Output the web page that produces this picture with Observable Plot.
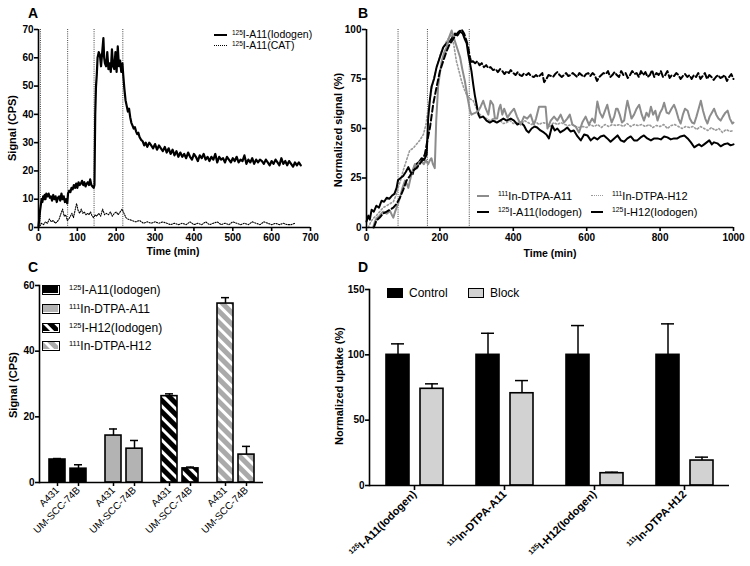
<!DOCTYPE html>
<html><head><meta charset="utf-8">
<script src="https://cdn.jsdelivr.net/npm/d3@7"></script>
<script src="https://cdn.jsdelivr.net/npm/@observablehq/plot@0.6"></script>
<style>
body{margin:0;background:#fff;}
#root{position:relative;width:750px;height:566px;overflow:hidden;font-family:"Liberation Sans",Arial,sans-serif;color:#000;background:#fff;}
.panel{position:absolute;}
.letter{position:absolute;font-weight:bold;font-size:14px;line-height:14px;}
.atitle{position:absolute;font-weight:bold;font-size:11px;white-space:nowrap;transform:translate(-50%,-50%);}
.atitle.rot{transform:translate(-50%,-50%) rotate(-90deg);}
.leg{position:absolute;white-space:nowrap;line-height:1;transform:translateY(-50%);}
.leg sup{font-size:0.62em;vertical-align:0.5em;line-height:0;}
.sample{position:absolute;height:0;}
.swatch{position:absolute;box-sizing:border-box;}
</style>
</head><body>
<svg width="0" height="0" style="position:absolute">
 <defs>
  <pattern id="stripeK" patternUnits="userSpaceOnUse" width="8" height="8" patternTransform="rotate(-45)">
   <rect width="8" height="8" fill="#000"/><rect width="3" height="8" fill="#fff"/>
  </pattern>
  <pattern id="stripeG" patternUnits="userSpaceOnUse" width="8" height="8" patternTransform="rotate(-45)">
   <rect width="8" height="8" fill="#aaaaaa"/><rect width="3" height="8" fill="#fff"/>
  </pattern>
 </defs>
</svg>
<div id="root"></div>
<script>
// ---------------- DATA ----------------
// Panel A: [time (min), signal (CPS)]
const aIodogen = [[0,0.5],[2,3],[4,6],[6,8],[8,10],[10,9],[12,11],[14,10],[16,11.5],[18,10],[20,12],[23,11],[26,12],[29,10.5],[32,11],[35,9.5],[38,11.5],[41,10],[44,11],[47,9],[50,10.5],[53,11],[56,9.5],[59,12],[62,10],[65,11],[68,9],[71,10],[74,8.5],[76,12],[79,13],[82,12.5],[85,14],[88,13.5],[91,15],[94,14],[97,15.5],[100,14],[103,16],[106,15],[109,15.5],[112,16.5],[115,15],[118,16],[121,14.5],[124,15.5],[127,16],[130,15],[133,17],[136,15],[139,14.5],[142,14],[144,15],[146,40],[148,50],[150,54],[152,60],[155,62],[158,61],[161,57],[164,62],[167,67],[169,60],[171,58],[174,57],[177,62],[180,56],[183,58],[186,55],[189,63],[192,57],[195,56],[198,62],[201,55],[204,64],[207,57],[210,59],[213,55],[216,58],[218,54],[221,49],[224,45],[227,43],[230,41],[233,42],[236,39],[239,37],[242,36],[245,35],[248,35.5],[251,34],[254,33],[257,33.5],[260,32],[264,31],[268,30.5],[272,29],[276,30],[280,28.5],[285,30],[290,29],[295,28],[300,29.5],[305,27.5],[310,29],[315,28],[320,27],[325,28.5],[330,26.5],[335,28],[340,26],[345,27.5],[350,25.5],[355,27],[360,25],[365,26.5],[370,25],[375,26],[380,24.5],[385,26.5],[390,25],[395,24],[400,26],[405,25],[410,23.5],[415,25.5],[420,24.5],[425,26],[430,24],[435,25],[440,23.5],[445,25],[450,24],[455,26],[460,23],[465,25],[470,24],[475,24.5],[480,23],[485,25],[490,24],[495,23],[500,24.5],[505,23.5],[510,25],[515,23],[520,24],[525,23.5],[530,25.5],[535,22.5],[540,24],[545,23],[550,24.5],[555,22.5],[560,24],[565,23],[570,24],[575,23.5],[580,22.5],[585,24],[590,23],[595,22],[600,23.5],[605,22.5],[610,24],[615,23],[620,22],[625,24.5],[630,22.5],[635,23.5],[640,22],[645,23.5],[650,22.5],[655,21.5],[660,23],[665,22],[670,23],[675,22]];
const aCat = [[3,0.5],[8,1.5],[13,1],[18,2],[23,1.5],[28,3],[33,2],[38,2.5],[43,1.5],[48,2],[53,3],[58,5],[62,6.5],[66,4],[70,4.5],[74,2.5],[78,3],[82,4],[86,5],[90,3.5],[94,6],[98,8.5],[102,6],[106,5],[110,6.5],[114,5],[118,5.5],[122,4.5],[126,5],[130,4.5],[134,5.5],[138,4],[142,3.5],[146,4.5],[150,4],[155,5],[160,4],[165,6.5],[170,4.5],[175,5],[180,4.5],[185,5.5],[190,4],[195,5],[200,5.5],[205,4.5],[210,5.5],[215,6.5],[220,5],[225,3.5],[230,3],[240,2.5],[250,2],[260,2.5],[270,1.5],[280,2],[290,1.5],[300,2],[310,1.5],[320,2],[330,1.5],[340,1],[350,1.5],[360,1],[370,1.5],[380,1],[390,2],[400,1],[410,1.5],[420,1],[430,2],[440,1],[450,1.5],[460,2],[470,1],[480,1.5],[490,1],[500,2],[510,1.5],[520,1],[530,1.5],[540,1],[550,2],[560,1.5],[570,1],[580,2],[590,1.5],[600,1],[610,1.5],[620,1],[630,1.5],[640,1],[650,1],[660,1.5]];
const aSwitches = [5, 75, 143, 217];
const aXTicks = [0,100,200,300,400,500,600,700];
const aYTicks = [0,10,20,30,40,50,60,70];

// Panel B: [time (min), normalized signal (%)]
const bInA11 = [[18,0],[23,3],[27,4.5],[36,6],[45,8],[55,7],[64,8.4],[70,6],[73,5],[78,8],[82,10],[86,12],[91,15],[98,20],[105,23.7],[110,22],[114,20],[120,25],[126,29],[132,32],[138,30],[144,33],[150,33.5],[156,32],[162,34],[168,32],[173,34],[177,35],[181,32],[186,30],[188,42],[190,54],[193,64],[195,71],[200,78],[205,84],[211,88],[218,91],[225,96],[232,99.5],[236,97],[241,94],[248,90],[255,86],[261,80],[268,74],[275,66],[282,59],[286,57],[291,57.5],[298,58],[305,59],[311,61],[318,64],[325,60],[332,57],[338,64],[345,62],[350,55],[356,55],[361,60],[365,62],[370,57],[375,60],[384,55.5],[393,58],[402,60],[410,56],[420,52],[429,56],[438,55],[447,57],[456,52],[462,55],[470,61],[480,61],[488,61],[493,50],[502,54],[511,56],[520,54],[529,57],[538,53],[547,55],[554,57],[561,52],[570,51],[579,48],[588,53],[597,56],[606,52],[615,55],[622,53],[629,63.6],[636,58],[643,55.5],[650,59],[656,62],[662,57],[668,53],[675,56],[680,60],[684,60],[690,57],[696,53],[702,54],[707,60],[711,64],[716,60],[722,55],[729,57],[736,60],[743,62],[750,57],[756,54],[763,58],[769,56],[775,61],[781,57],[787,59],[793,54],[800,58],[806,60],[811,63],[818,58],[824,57.5],[831,60],[838,62],[844,59],[850,55],[856,52.5],[862,57],[868,60],[875,59],[881,55],[887,53],[893,52.5],[899,56],[905,60],[911,64],[917,59],[923,55],[929,52.5],[935,56],[941,58],[947,60],[953,57],[959,55],[965,54],[971,56],[978,58],[984,59],[990,55],[997,52.5],[1000,53]];
const bIA11 = [[0,3],[5,6],[9,4],[14,9],[20,8],[27,11],[34,10],[41,13.5],[48,13],[55,15],[62,14.5],[69,16],[76,17],[82,20],[86,24],[93,25],[100,26],[107,28],[114,30.5],[120,28],[126,27],[131,31],[136,32],[143,33],[150,35],[157,34],[164,37],[168,55],[173,65],[177,71],[184,75],[191,81],[200,86],[209,91],[218,93],[227,94],[234,96],[241,98],[248,97],[255,99],[262,98],[268,95],[273,93],[277,88],[282,83],[286,79],[291,72],[295,67],[300,62],[305,57],[309,55.5],[318,56],[327,54],[336,53],[345,54],[355,53],[364,54],[373,55],[382,54],[393,55],[402,54],[411,52],[420,53],[429,51.5],[436,49],[442,48],[450,50],[458,51],[465,50.5],[474,49],[483,48],[490,47],[497,45],[506,51.5],[513,49],[520,50],[528,48],[537,49],[547,50.5],[556,48.5],[565,49],[575,46],[584,44],[593,47],[602,46.5],[611,44],[620,45.5],[629,44.5],[638,46],[647,46.5],[656,45],[665,43.3],[675,45],[684,46.5],[693,44],[702,43.3],[711,45],[720,46],[729,44],[738,44],[747,45.5],[756,46.5],[765,45],[775,44],[784,45],[793,45],[802,44.5],[811,46],[820,45.5],[829,44.5],[838,45],[847,45],[856,46],[866,46.5],[875,45],[884,43],[893,40.5],[901,41.5],[906,42],[913,41],[920,42],[927,43],[934,44],[941,42],[947,43],[956,42.5],[965,41],[974,42],[984,42.5],[992,41.5],[1000,42]];
const bInH12 = [[5,0],[12,3],[18,4.5],[27,6],[36,8],[45,10],[55,11],[64,12],[73,13],[80,16],[86,20],[93,24],[100,28.8],[109,34],[118,39],[127,40],[136,42],[145,44],[155,47],[162,52],[168,60],[175,67],[182,74],[191,81],[200,87],[209,91],[218,94],[225,96],[232,97.6],[238,92],[245,84],[252,79],[259,74],[266,70],[273,67],[282,65],[291,64],[300,60],[309,57],[318,56],[327,55],[336,54],[345,55],[355,53],[364,54],[373,52.5],[382,53],[391,54],[400,52.5],[410,53],[420,52],[430,54],[440,53],[450,52],[460,53.5],[470,52],[480,53],[490,52.5],[500,51],[510,53],[520,52],[530,53],[540,52],[550,51.5],[560,52],[570,51],[580,50.5],[590,51],[600,50.5],[610,52],[620,51],[630,52],[640,50.5],[650,52],[660,51],[670,52],[680,51.5],[690,52],[700,51],[710,52.5],[720,51],[730,52],[740,51.5],[750,52],[760,51],[770,52],[780,50.5],[790,51.5],[800,51],[810,52],[820,50],[830,51.5],[840,52],[850,51],[860,50],[870,51],[880,50.5],[890,51],[900,49.5],[910,51],[920,50],[930,49],[940,50.5],[950,49],[960,50],[970,48],[980,49.5],[990,48.5],[1000,49]];
const bIH12 = [[20,0],[27,3.5],[36,5],[45,7],[55,8],[64,9],[73,10],[82,12],[91,15],[100,19],[109,23.7],[118,26],[127,28.8],[136,30],[145,32],[152,34],[159,37],[166,44],[173,50.6],[182,62.6],[191,71],[200,79],[209,84],[218,89],[225,92],[232,94],[239,96],[245,97.5],[252,99],[259,100],[266,98],[273,94],[278,90],[282,86],[286,83],[290,84],[296,83],[302,84],[308,82],[314,83],[320,81],[326,82],[332,80.5],[338,81],[345,79.5],[352,80],[358,78.5],[364,80],[370,79],[376,77.5],[382,79],[388,78],[393,79.5],[400,78],[406,77],[412,78.5],[418,77],[424,76.5],[429,77.8],[436,77],[442,78],[448,76.5],[456,76],[462,77],[468,76],[474,77],[479,78],[484,73.4],[490,75],[496,77],[502,76.6],[508,76],[514,77.5],[520,78.5],[526,77],[532,76],[538,77],[544,78],[550,76.5],[556,77],[562,78],[568,77],[574,76],[580,78],[586,77],[592,76],[598,77.5],[604,78],[610,76.5],[616,78],[622,77],[628,74],[634,76],[640,77],[646,78],[652,77.5],[658,79],[664,76],[670,77],[676,78.5],[682,77],[688,76],[694,79],[700,77],[706,78],[712,75.5],[718,77],[724,79],[730,77.5],[736,78],[742,76],[748,79],[754,77],[760,78.5],[766,76],[772,77],[778,79.5],[784,76],[790,78],[796,77],[802,79],[808,76],[814,77],[820,79],[826,75.5],[832,77],[838,76.5],[844,78],[850,77],[856,75],[862,76.5],[868,77.5],[874,76],[880,77],[886,75],[892,77],[898,76],[904,78],[910,75],[916,76.5],[922,78],[928,75],[934,77],[940,76],[946,74.5],[952,76],[958,77],[964,75.5],[970,76],[976,77],[982,74],[988,76],[994,77.5],[1000,75]];
const bSwitches = [86, 166, 280];
const bXTicks = [0,200,400,600,800,1000];
const bYTicks = [0,25,50,75,100];

// Panel C
const cGroups = ["125I-A11(Iodogen)", "111In-DTPA-A11", "125I-H12(Iodogen)", "111In-DTPA-H12"];
const cCells = ["A431", "UM-SCC-74B"];
const cA431Mean = [7.0, 14.3, 26.3, 54.5];
const cA431Err  = [0.3, 2.0, 0.7, 1.8];
const cUmMean   = [4.2, 10.3, 4.3, 8.5];
const cUmErr    = [1.2, 2.5, 0.4, 2.5];
const cYTicks = [0,20,40,60];

// Panel D
const dGroups = ["125I-A11(Iodogen)", "111In-DTPA-A11", "125I-H12(Iodogen)", "111In-DTPA-H12"];
const dConds = ["Control", "Block"];
const dControlMean = [100, 100, 100, 100];
const dControlErr  = [8.4, 16.5, 22.4, 23.7];
const dBlockMean   = [74, 70.6, 9.4, 19.1];
const dBlockErr    = [3.8, 9.7, 0.8, 2.6];
const dYTicks = [0,50,100,150];

// ---------------- HELPERS ----------------
const root = document.getElementById("root");
const FONT = '"Liberation Sans", Arial, sans-serif';
const baseStyle = {fontFamily: FONT, fontSize: "10px", background: "transparent", color: "black", overflow: "visible"};
const pts = arr => arr.map(([t, v]) => ({t, v}));
const plain = d => String(d);

function place(el, left, top) {
  const d = document.createElement("div");
  d.className = "panel"; d.style.left = left + "px"; d.style.top = top + "px";
  d.appendChild(el); root.appendChild(d); return d;
}
function html(cls, content, css) {
  const d = document.createElement("div");
  d.className = cls; d.innerHTML = content; Object.assign(d.style, css); root.appendChild(d); return d;
}
// isotope mass number as superscript
const supHtml = s => s.replace(/^(\d+)/, "<sup>$1</sup>");
function superscriptSvg(svg, size) {
  svg.querySelectorAll("text").forEach(t => {
    const m = /^(\d{3})(\D.*)$/.exec(t.textContent);
    if (!m || t.querySelector("tspan")) return;
    t.textContent = "";
    const a = document.createElementNS("http://www.w3.org/2000/svg", "tspan");
    a.setAttribute("font-size", size * 0.65); a.setAttribute("dy", -size * 0.38); a.textContent = m[1];
    const b = document.createElementNS("http://www.w3.org/2000/svg", "tspan");
    b.setAttribute("dy", size * 0.38); b.textContent = m[2];
    t.appendChild(a); t.appendChild(b);
  });
}

// ---------------- PANEL A ----------------
const plotA = Plot.plot({
  width: 370, height: 270, marginLeft: 38, marginRight: 60, marginTop: 29, marginBottom: 43,
  style: baseStyle,
  x: {domain: [0, 700]}, y: {domain: [0, 70]},
  marks: [
    Plot.ruleX(aSwitches, {stroke: "#444", strokeWidth: 1, strokeDasharray: "1,1.2"}),
    Plot.line(pts(aCat), {x: "t", y: "v", stroke: "black", strokeWidth: 1.1, strokeDasharray: "1.2,1.4"}),
    Plot.line(pts(aIodogen), {x: "t", y: "v", stroke: "black", strokeWidth: 2.2}),
    Plot.ruleX([0], {strokeWidth: 1.6}),
    Plot.ruleY([0], {strokeWidth: 1.6}),
    Plot.axisX({ticks: aXTicks, tickFormat: plain, tickSize: 4, tickPadding: 2, label: null, fontWeight: "bold", strokeWidth: 1.6}),
    Plot.axisY({ticks: aYTicks, tickFormat: plain, tickSize: 4, tickPadding: 1, label: null, fontWeight: "bold", strokeWidth: 1.6})
  ]
});
place(plotA, 0, 0);

// ---------------- PANEL B ----------------
const plotB = Plot.plot({
  width: 430, height: 270, marginLeft: 46, marginRight: 17, marginTop: 29, marginBottom: 43,
  style: baseStyle,
  x: {domain: [0, 1000]}, y: {domain: [0, 100]},
  marks: [
    Plot.ruleX(bSwitches, {stroke: "#444", strokeWidth: 1, strokeDasharray: "1,1.2"}),
    Plot.line(pts(bInH12), {x: "t", y: "v", stroke: "#9a9a9a", strokeWidth: 1.6, strokeDasharray: "1.5,2.2"}),
    Plot.line(pts(bIA11), {x: "t", y: "v", stroke: "black", strokeWidth: 2}),
    Plot.line(pts(bInA11), {x: "t", y: "v", stroke: "#8c8c8c", strokeWidth: 2}),
    Plot.line(pts(bIH12), {x: "t", y: "v", stroke: "black", strokeWidth: 2, strokeDasharray: "6,3"}),
    Plot.ruleX([0], {strokeWidth: 1.6}),
    Plot.ruleY([0], {strokeWidth: 1.6}),
    Plot.axisX({ticks: bXTicks, tickFormat: plain, tickSize: 4, tickPadding: 2, label: null, fontWeight: "bold", strokeWidth: 1.6}),
    Plot.axisY({ticks: bYTicks, tickFormat: plain, tickSize: 4, tickPadding: 1, label: null, fontWeight: "bold", strokeWidth: 1.6})
  ]
});
place(plotB, 320, 0);

// ---------------- PANEL C ----------------
const cRows = [];
cGroups.forEach((g, i) => {
  cRows.push({group: g, cell: cCells[0], mean: cA431Mean[i], err: cA431Err[i]});
  cRows.push({group: g, cell: cCells[1], mean: cUmMean[i], err: cUmErr[i]});
});
const cFills = ["black", "#b3b3b3", "url(#stripeK)", "url(#stripeG)"];
const plotC = Plot.plot({
  width: 370, height: 296, marginLeft: 37, marginRight: 106, marginTop: 15, marginBottom: 84,
  style: baseStyle,
  fx: {domain: cGroups, padding: 0, axis: null},
  x: {domain: cCells, paddingInner: 0.26, paddingOuter: 0.43},
  y: {domain: [0, 60]},
  color: {domain: cGroups, range: cFills},
  marks: [
    Plot.ruleX(cRows, {fx: "group", x: "cell", y1: "mean", y2: d => d.mean + d.err, strokeWidth: 1.5}),
    Plot.tickY(cRows, {fx: "group", x: "cell", y: d => d.mean + d.err, strokeWidth: 1.5, insetLeft: 4, insetRight: 4}),
    Plot.barY(cRows, {fx: "group", x: "cell", y: "mean", fill: "group", stroke: "black", strokeWidth: 1.6}),
    Plot.ruleY([0], {strokeWidth: 1.6}),
    Plot.frame({anchor: "left", facetAnchor: "left", strokeWidth: 1.6}),
    Plot.axisX({tickRotate: -45, tickSize: 4, tickPadding: 2, label: null, fontSize: 10, strokeWidth: 1.5}),
    Plot.axisY({ticks: cYTicks, tickFormat: plain, tickSize: 4, tickPadding: 1, label: null, fontWeight: "bold", strokeWidth: 1.6})
  ]
});
place(plotC, 0, 270);

// ---------------- PANEL D ----------------
const dRows = [];
dGroups.forEach((g, i) => {
  dRows.push({group: g, cond: dConds[0], mean: dControlMean[i], err: dControlErr[i]});
  dRows.push({group: g, cond: dConds[1], mean: dBlockMean[i], err: dBlockErr[i]});
});
const plotD = Plot.plot({
  width: 430, height: 296, marginLeft: 48, marginRight: 20, marginTop: 19, marginBottom: 81,
  style: baseStyle,
  fx: {domain: dGroups, padding: 0},
  x: {domain: dConds, paddingInner: 0.33, paddingOuter: 0.46, axis: null},
  y: {domain: [0, 150]},
  color: {domain: dConds, range: ["black", "#d2d2d2"]},
  marks: [
    Plot.ruleX(dRows, {fx: "group", x: "cond", y1: "mean", y2: d => d.mean + d.err, strokeWidth: 1.5}),
    Plot.tickY(dRows, {fx: "group", x: "cond", y: d => d.mean + d.err, strokeWidth: 1.5, insetLeft: 5, insetRight: 5}),
    Plot.barY(dRows, {fx: "group", x: "cond", y: "mean", fill: "cond", stroke: "black", strokeWidth: 1.6}),
    Plot.ruleY([0], {strokeWidth: 1.6}),
    Plot.frame({anchor: "left", facetAnchor: "left", strokeWidth: 1.6}),
    Plot.axisFx({anchor: "bottom", tickRotate: -45, tickSize: 5, tickPadding: 2, label: null, fontSize: 11, fontWeight: "bold", strokeWidth: 1.6}),
    Plot.axisY({ticks: dYTicks, tickFormat: plain, tickSize: 4, tickPadding: 1, label: null, fontWeight: "bold", strokeWidth: 1.6})
  ]
});
superscriptSvg(plotD, 11);
place(plotD, 320, 270);

// ---------------- TEXT: letters, axis titles ----------------
html("letter", "A", {left: "28px", top: "6px"});
html("letter", "B", {left: "358px", top: "6px"});
html("letter", "C", {left: "28px", top: "260px"});
html("letter", "D", {left: "358px", top: "260px"});

html("atitle rot", "Signal (CPS)", {left: "12px", top: "128px"});
html("atitle", "Time (min)", {left: "173px", top: "251px", fontSize: "10.5px"});
html("atitle rot", "Normalized signal (%)", {left: "338px", top: "130px"});
html("atitle", "Time (min)", {left: "550px", top: "253px", fontSize: "10.5px"});
html("atitle rot", "Signal (CPS)", {left: "13px", top: "385px"});
html("atitle rot", "Normalized uptake (%)", {left: "339px", top: "386px"});

// ---------------- LEGENDS ----------------
// A
const legA = [
  {name: "125I-A11(Iodogen)", y: 34, css: {borderTop: "2px solid #000"}},
  {name: "125I-A11(CAT)", y: 45, css: {borderTop: "1.2px dotted #000"}}
];
legA.forEach(r => {
  html("sample", "", Object.assign({left: "214px", top: r.y + "px", width: "13px"}, r.css));
  html("leg", supHtml(r.name), {left: "232px", top: r.y + "px", fontSize: "10.5px"});
});
// B
const legB = [
  {name: "111In-DTPA-A11", x: 477, y: 196, css: {borderTop: "2px solid #8c8c8c"}},
  {name: "111In-DTPA-H12", x: 591, y: 196, css: {borderTop: "1.6px dotted #9a9a9a"}},
  {name: "125I-A11(Iodogen)", x: 477, y: 212, css: {borderTop: "2px solid #000"}},
  {name: "125I-H12(Iodogen)", x: 591, y: 212, css: {borderTop: "2px dashed #000"}}
];
legB.forEach(r => {
  html("sample", "", Object.assign({left: r.x + "px", top: (r.y - 1) + "px", width: "12px"}, r.css));
  html("leg", supHtml(r.name), {left: (r.x + 21) + "px", top: r.y + "px", fontSize: "11px"});
});
// C
const legCy = [290, 309, 328, 346];
cGroups.forEach((g, i) => {
  const sw = html("swatch", "", {left: "42px", top: (legCy[i] - 5) + "px", width: "18px", height: "10px", border: "1.6px solid #000"});
  const s = document.createElementNS("http://www.w3.org/2000/svg", "svg");
  s.setAttribute("width", "15"); s.setAttribute("height", "7");
  s.style.display = "block";
  s.innerHTML = `<rect width="15" height="7" fill="${cFills[i]}"/>`;
  sw.appendChild(s);
  html("leg", supHtml(g), {left: "69px", top: legCy[i] + "px", fontSize: "12px"});
});
// D
const dLegFill = ["black", "#d2d2d2"];
const dLegX = [387, 468];
dConds.forEach((c, i) => {
  html("swatch", "", {left: dLegX[i] + "px", top: "288px", width: "16px", height: "10px", background: dLegFill[i], border: "1.6px solid #000"});
  html("leg", c, {left: (dLegX[i] + 22) + "px", top: "293px", fontSize: "12px"});
});
</script>
</body></html>
